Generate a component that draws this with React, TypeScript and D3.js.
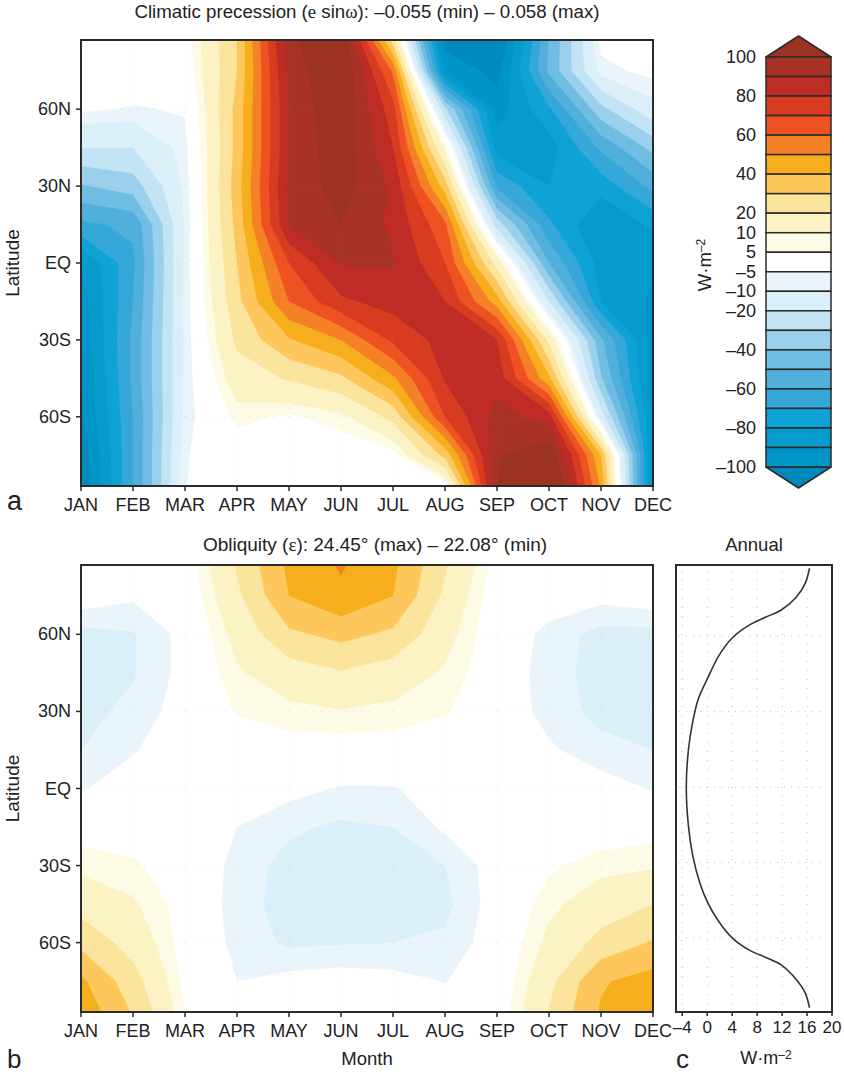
import * as d3 from 'd3'

const W = 844
const H = 1074
const FONT = '"Liberation Sans", Arial, sans-serif'
const SERIF = '"Liberation Serif", serif'
const INK = '#2b2b2b'

const MONTHS = ['JAN', 'FEB', 'MAR', 'APR', 'MAY', 'JUN', 'JUL', 'AUG', 'SEP', 'OCT', 'NOV', 'DEC']
const GRID_LATS = [87, 75, 60, 45, 30, 15, 0, -15, -30, -45, -60, -75, -87]
const LAT_TICKS = [60, 30, 0, -30, -60]
const LAT_LABELS = ['60N', '30N', 'EQ', '30S', '60S']

// W/m2 differences, one row per latitude, one column per month
const PRECESSION = [
  [0, -1, 1, 30, 97, 112, 25, -105, -113, -50, -3, 0],
  [0, -1, 0, 30, 93, 112, 58, -92, -104, -48, -7, -3],
  [-4, -5.5, -4.5, 33, 90, 110, 74, -28, -95, -72, -33, -13],
  [-20, -20, -7, 33, 90, 108, 80, 8, -85, -85, -58, -37],
  [-41, -35, -8.5, 35, 92, 105, 88, 35, -62, -80, -76, -57],
  [-62, -58, -9, 33, 90, 100, 88, 62, -25, -68, -90, -78],
  [-90, -62, -8.5, 30, 70, 91, 91, 70, 16, -50, -85, -88],
  [-95, -60, -8.5, 27, 60, 78, 84, 80, 45, -20, -80, -92],
  [-97, -58, -8.5, 22, 39, 50, 72, 84, 80, 17, -48, -95],
  [-100, -58, -8.5, 15, 21, 28, 48, 81, 86, 42, -39, -95],
  [-102, -60, -8, 7, 4, 8, 23, 70, 94, 85, -15, -92],
  [-107, -60, -5.5, 0, 0, 0, 2, 33, 99, 110, 40, -92],
  [-108, -60, -5.3, 0, 0, 0, 0, 0, 100, 120, 48, -95],
]

const OBLIQUITY = [
  [0, -1, 0, 21, 42, 51, 42, 21, 2, 0, 0, 0],
  [-1, -4, -1, 18, 40, 48, 40, 18, 0, -1, -3, -1],
  [-12, -10.5, -3, 13, 28, 33, 28, 13, 0, -7, -12, -12],
  [-13, -10.5, -3, 9, 15, 19, 15, 9, 0, -8, -12, -13],
  [-12, -8.5, -2, 5.5, 8, 9.5, 8, 5.5, 0, -7.5, -11.5, -12],
  [-10, -5.5, -1, 1, 2, 1.5, 2, 1, 0, -4, -8.5, -10],
  [-5.5, -2, 0, 0, -3, -5.5, -5.5, -1.5, 0, 0, -2, -5.5],
  [2, 1, 0, -5, -9, -11, -10, -4, -1, 0, 1, 2],
  [8, 6, 1, -7, -12, -13, -13, -10, -2, 4, 7.5, 9],
  [16, 11, 2, -8, -12, -13, -13, -11.5, -2, 8, 15, 20],
  [27, 16, 2, -7, -11, -10.5, -10, -9, -1.5, 12, 23, 31],
  [42, 24, 3, -5, -3, -2, -3, -5.2, -1, 17, 39, 44],
  [47, 29, 5, -1, 0, 0, 0, -1, 0, 20.5, 41, 50.5],
]

const ANNUAL_LAT = [87, 81, 75.6, 70.3, 67.7, 64.5, 59.3, 52, 42.9, 35.2, 26.2, 15, 0, -15.6, -27.4, -37.9, -45.5, -53.2, -59.9, -65, -67.8, -70.6, -76.6, -81.8, -87.7]
const ANNUAL_VAL = [16.4, 15.7, 14.3, 11.8, 9.5, 6.8, 4, 1.8, 0, -1.4, -2.3, -3, -3.35, -3, -2.3, -1.2, 0, 1.8, 4, 6.9, 9.5, 11.8, 14.3, 15.7, 16.4]
const ANNUAL_TICKS = [-4, 0, 4, 8, 12, 16, 20]

// lower bound of every colour band, lowest first
const LEVELS = [-100, -90, -80, -70, -60, -50, -40, -30, -20, -10, -5, 5, 10, 20, 30, 40, 50, 60, 70, 80, 90, 100]
const BAND_COLORS = ['#0095c8', '#059bcd', '#0fa2d5', '#35a8d9', '#51afdc', '#6fbde3', '#9bd0ec', '#c3e4f5', '#dbeff9', '#e9f5fb', '#ffffff', '#fdfbe6', '#fcf3c4', '#fbe49b', '#fdc75c', '#f6ae1c', '#f58025', '#ee5122', '#d83c20', '#bf2c26', '#a93226', '#9b3320']
const BELOW_COLOR = '#0089bd'
const LEGEND_TICKS = [100, 80, 60, 40, 20, 10, 5, -5, -10, -20, -40, -60, -80, -100]

const dash = (s: string) => s.replace('-', '–')

function ContourPanel({ values, top, bottom }: { values: number[][]; top: number; bottom: number }) {
  const left = 81
  const right = 653
  const cols = MONTHS.length
  const rows = GRID_LATS.length
  const lat = d3.scaleLinear().domain([87, -87]).range([top, bottom])
  // d3.contours puts grid nodes at i + 0.5; clamp pulls the outer half cell on to the frame
  const px = d3.scaleLinear().domain([0.5, cols - 0.5]).range([left, right]).clamp(true)
  const py = d3
    .scaleLinear()
    .domain(GRID_LATS.map((_, i) => i + 0.5))
    .range(GRID_LATS.map((l) => lat(l)))
    .clamp(true)
  const month = (i: number) => px(i + 0.5)

  const bands = d3.contours().size([cols, rows]).thresholds(LEVELS)(values.flat())
  const path = d3.geoPath(
    d3.geoTransform({
      point(x, y) {
        this.stream.point(px(x), py(y))
      },
    })
  )

  return (
    <g>
      <rect x={left} y={top} width={right - left} height={bottom - top} fill={BELOW_COLOR} />
      {bands.map((b, i) => (
        <path key={i} d={path(b) ?? ''} fill={BAND_COLORS[i]} stroke={BAND_COLORS[i]} strokeWidth={0.3} />
      ))}
      {/* faint dotted guides */}
      {LAT_TICKS.map((t) => (
        <line key={t} x1={left} x2={right} y1={lat(t)} y2={lat(t)} stroke="#9a9a9a" strokeOpacity={0.28} strokeDasharray="1 7" />
      ))}
      {MONTHS.slice(1, -1).map((m, i) => (
        <line key={m} x1={month(i + 1)} x2={month(i + 1)} y1={top} y2={bottom} stroke="#9a9a9a" strokeOpacity={0.22} strokeDasharray="1 7" />
      ))}
      <rect x={left} y={top} width={right - left} height={bottom - top} fill="none" stroke={INK} strokeWidth={2} />
      {LAT_TICKS.map((t, i) => (
        <g key={t}>
          <line x1={left - 5} x2={left} y1={lat(t)} y2={lat(t)} stroke={INK} strokeWidth={1.5} />
          <text x={left - 10} y={lat(t)} dominantBaseline="central" textAnchor="end" fontSize={18}>
            {LAT_LABELS[i]}
          </text>
        </g>
      ))}
      {MONTHS.map((m, i) => (
        <g key={m}>
          <line x1={month(i)} x2={month(i)} y1={bottom} y2={bottom + 5} stroke={INK} strokeWidth={1.5} />
          <text x={month(i)} y={bottom + 24.5} textAnchor="middle" fontSize={18}>
            {m}
          </text>
        </g>
      ))}
      <text transform={`translate(19,${(top + bottom) / 2}) rotate(-90)`} textAnchor="middle" fontSize={19}>
        Latitude
      </text>
    </g>
  )
}

function Legend() {
  const left = 766
  const right = 831
  const mid = (left + right) / 2
  const top = [...LEVELS].reverse()
  const y = d3.scalePoint<number>().domain(top).range([57, 467])
  const colorOf = (lv: number) => BAND_COLORS[LEVELS.indexOf(lv)]
  return (
    <g>
      <path d={`M${left},${y(100)}L${mid},36L${right},${y(100)}Z`} fill={colorOf(100)} stroke={INK} strokeWidth={1.5} strokeLinejoin="round" />
      <path d={`M${left},${y(-100)}L${mid},488L${right},${y(-100)}Z`} fill={BELOW_COLOR} stroke={INK} strokeWidth={1.5} strokeLinejoin="round" />
      {/* the top level is the arrow, so each rect runs from its level's lower edge upward */}
      {top.slice(1).map((lv, i) => (
        <rect key={lv} x={left} y={y(top[i])} width={right - left} height={y(lv)! - y(top[i])!} fill={colorOf(lv)} stroke={INK} strokeWidth={1.5} />
      ))}
      {LEGEND_TICKS.map((t) => (
        <text key={t} x={756} y={y(t)} dominantBaseline="central" textAnchor="end" fontSize={18}>
          {dash(String(t))}
        </text>
      ))}
      <text transform="translate(711,265) rotate(-90)" textAnchor="middle" fontSize={18.5}>
        W·m<tspan dy={-6} fontSize={12}>–2</tspan>
      </text>
    </g>
  )
}

function AnnualPanel() {
  const top = 565
  const bottom = 1012
  const x = d3.scaleLinear().domain([-5, 20]).range([676, 832])
  const y = d3.scaleLinear().domain([88.3, -89.4]).range([top, bottom])
  const pts = ANNUAL_LAT.map((l, i) => [ANNUAL_VAL[i], l] as [number, number])
  const line = d3.line<[number, number]>().x((d) => x(d[0])).y((d) => y(d[1])).curve(d3.curveCatmullRom)
  return (
    <g>
      {ANNUAL_TICKS.slice(0, -1).map((t) => (
        <line key={t} x1={x(t)} x2={x(t)} y1={top + 6} y2={bottom - 4} stroke="#888" strokeOpacity={0.55} strokeDasharray="1 8" />
      ))}
      {LAT_TICKS.map((t) => (
        <line key={t} x1={x(-4.5)} x2={x(19)} y1={y(t)} y2={y(t)} stroke="#888" strokeOpacity={0.55} strokeDasharray="1 6" />
      ))}
      <path d={line(pts) ?? ''} fill="none" stroke="#333" strokeWidth={1.6} />
      <rect x={x(-5)} y={top} width={x(20) - x(-5)} height={bottom - top} fill="none" stroke={INK} strokeWidth={2} />
      {ANNUAL_TICKS.map((t) => (
        <g key={t}>
          <line x1={x(t)} x2={x(t)} y1={bottom} y2={bottom + 4} stroke={INK} strokeWidth={1.5} />
          <text x={x(t)} y={1033} textAnchor="middle" fontSize={17}>
            {dash(String(t))}
          </text>
        </g>
      ))}
      <text x={754} y={551} textAnchor="middle" fontSize={18.5}>
        Annual
      </text>
      <text x={766} y={1064} textAnchor="middle" fontSize={18}>
        W·m<tspan dy={-5} fontSize={12}>–2</tspan>
      </text>
    </g>
  )
}

export default function App() {
  return (
    <svg width={W} height={H} viewBox={`0 0 ${W} ${H}`} style={{ position: 'absolute', left: 0, top: 0 }} fontFamily={FONT} fill="#222">
      <rect width={W} height={H} fill="#fff" />
      <text x={367} y={18} textAnchor="middle" fontSize={18.7}>
        Climatic precession (<tspan fontFamily={SERIF}>e</tspan> sin<tspan fontFamily={SERIF}>ω</tspan>): –0.055 (min) – 0.058 (max)
      </text>
      <ContourPanel values={PRECESSION} top={40} bottom={486} />
      <Legend />
      <text x={7} y={510} fontSize={27}>a</text>

      <text x={375} y={551} textAnchor="middle" fontSize={19}>
        Obliquity (<tspan fontFamily={SERIF}>ε</tspan>): 24.45° (max) – 22.08° (min)
      </text>
      <ContourPanel values={OBLIQUITY} top={565} bottom={1012} />
      <AnnualPanel />
      <text x={367} y={1065} textAnchor="middle" fontSize={18.5}>Month</text>
      <text x={7} y={1068} fontSize={26}>b</text>
      <text x={676} y={1068} fontSize={26}>c</text>
    </svg>
  )
}
